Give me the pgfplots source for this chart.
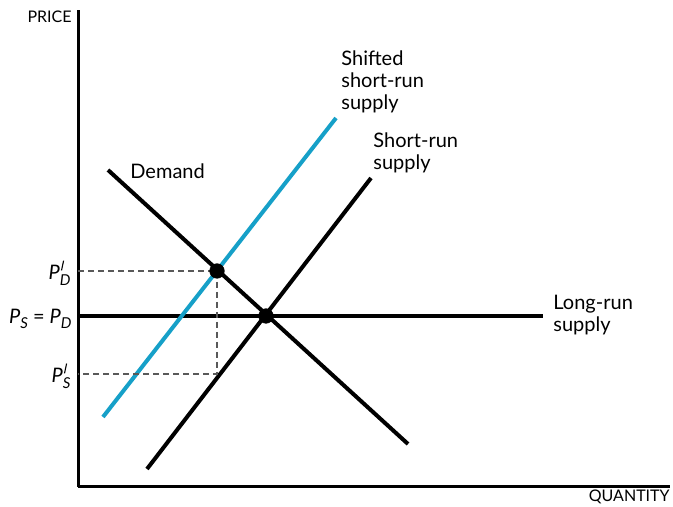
\documentclass[border=0pt]{standalone}
\usepackage{fontspec}
\setmainfont{Lato}
\usepackage{pgfplots}
\pgfplotsset{compat=1.18}
\definecolor{shiftblue}{RGB}{22,160,200}
\newcommand{\prm}{\raisebox{0.95ex}{\rotatebox{-12}{\rule{0.55pt}{0.5em}}}}
\newcommand{\Pl}[2]{\textit{P}\makebox[0pt][l]{\hspace{0.5pt}#1}\raisebox{-0.55ex}{\fontsize{7.5}{8}\selectfont\textit{#2}}}
\begin{document}
\begin{tikzpicture}
\begin{axis}[
  x=0.5pt, y=0.5pt,
  xmin=0, xmax=592, ymin=0, ymax=477,
  axis lines=left,
  axis line style={line width=1.5pt, -},
  xtick=\empty, ytick=\empty,
  clip=false,
  font=\fontsize{10}{11}\selectfont,
]
% long-run supply
\addplot[black, line width=2pt] coordinates {(0,171) (465,171)};
% demand
\addplot[black, line width=2pt] coordinates {(30,317) (330,43)};
% short-run supply
\addplot[black, line width=2pt] coordinates {(69,18) (293,309)};
% shifted short-run supply
\addplot[shiftblue, line width=2pt] coordinates {(25,70) (258,369)};
% dashed guides
\addplot[gray!70!black, dash pattern=on 3pt off 2pt, line width=0.55pt] coordinates {(0,216) (139,216) (139,113) (0,113)};
% points
\addplot[only marks, mark=*, mark size=3.6pt, black] coordinates {(139,216) (188,171)};

\node[anchor=east, inner sep=0pt, font=\fontsize{8}{9}\selectfont] at (axis cs:-6,470) {PRICE};
\node[anchor=east, inner sep=0pt, font=\fontsize{8}{9}\selectfont] at (axis cs:592,-10) {QUANTITY};
\node[anchor=east, inner sep=0pt, font=\fontsize{10}{11}\selectfont] at (axis cs:-7,214) {\Pl{\prm}{D}};
\node[anchor=east, inner sep=0pt, font=\fontsize{10}{11}\selectfont] at (axis cs:-6,168) {\Pl{}{S} = \Pl{}{D}};
\node[anchor=east, inner sep=0pt, font=\fontsize{10}{11}\selectfont] at (axis cs:-7,111) {\Pl{\prm}{S}};
\node[anchor=west, inner sep=0pt] at (axis cs:52,316) {Demand};
\node[anchor=north west, align=left, inner sep=0pt] at (axis cs:263,437) {Shifted\\short-run\\supply};
\node[anchor=north west, align=left, inner sep=0pt] at (axis cs:295,355) {Short-run\\supply};
\node[anchor=north west, align=left, inner sep=0pt] at (axis cs:475,192) {Long-run\\supply};
\coordinate (bl) at (axis cs:-78,-20);
\coordinate (tr) at (axis cs:595,487);
\end{axis}
\pgfresetboundingbox
\path[use as bounding box] (bl) rectangle (tr);
\end{tikzpicture}
\end{document}
